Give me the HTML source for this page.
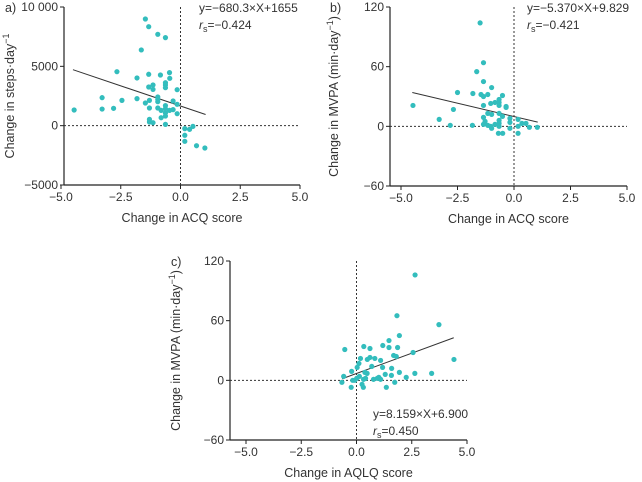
<!DOCTYPE html>
<html><head><meta charset="utf-8"><style>
body{margin:0;background:#fff;}
svg{display:block;font-family:"Liberation Sans",sans-serif;}
</style></head><body>
<svg id="chart" width="642" height="482" viewBox="0 0 642 482"></svg>
<script>
const aX=[-1.47,-1.33,-0.95,-0.63,-1.64,-2.66,-1.33,-0.84,-0.46,-0.45,-1.82,-1.15,-1.33,-1.15,-0.63,-0.63,-0.63,-0.14,-3.28,-2.45,-1.82,-1.30,-0.95,-0.95,-0.95,-0.31,-1.47,-0.14,-4.45,-3.28,-2.8,-1.30,-0.95,-0.81,-0.63,-0.63,-0.46,-0.31,-0.14,-0.63,-0.63,-0.81,-1.30,-1.30,-1.15,-0.63,0.18,0.38,0.52,0.18,0.18,0.67,1.02];
const aY=[8990,8340,7700,7420,6380,4550,4330,4270,4470,3990,4020,3430,3260,3060,3620,3430,3200,3030,2360,2130,2280,2130,2420,2220,2020,2080,1910,1800,1320,1400,1460,1490,1490,1290,1690,1430,1290,1350,1010,1070,810,670,530,310,250,110,-250,-310,-60,-810,-1320,-1690,-1880];
const bX=[-1.50,-1.35,-1.65,-1.35,-0.99,-2.50,-1.82,-1.46,-1.35,-1.16,-0.51,-4.47,-2.68,-1.35,-1.03,-0.84,-0.66,-0.66,-0.66,-0.35,-0.35,-1.16,-0.99,-0.66,-0.51,-1.35,-1.28,-1.35,-1.16,-1.03,-0.99,-0.84,-0.66,-0.66,-0.66,-0.69,-0.50,-3.31,-2.82,-1.84,-0.18,-0.18,-0.18,0.18,0.18,0.18,0.35,0.53,0.68,1.03];
const bY=[104,64,55,45,39,34,33,32,30,32,31,21,17,21,23,24,27,24,21,20,19,13,12,13,10,9,5,2,1,0,-2,2,6,3,0,-7,-7,7,1,1,8,4,-2,7,0,-7,3,3,-1,-1];
const cX=[2.65,1.83,3.73,1.94,1.47,-0.53,0.33,0.61,1.19,1.47,1.86,1.68,1.80,2.56,4.41,0.18,0.49,0.61,0.83,1.09,0.11,0.69,1.18,1.59,0.03,-0.22,-0.58,1.30,1.58,1.94,2.25,2.64,3.40,0.13,0.38,0.48,0.41,0.32,0.01,-0.17,-0.08,0.77,0.94,1.01,1.09,-0.66,-0.24,0.25,0.31,1.35,1.73];
const cY=[106,65,56,45,40,31,34,32,35,33,33,25,24,28,21,22,21,23,22,20,17,14,13,12,13,9,4,6,5,8,3,7,7,4,8,7,2,1,2,0,0,1,2,3,1,-2,-7,-4,-7,-7,-2];
const xTicks=[-5,-2.5,0,2.5,5];
const xTickLabels=["−5.0","−2.5","0.0","2.5","5.0"];
const aYTicks=[10000,5000,0,-5000];
const aYTickLabels=["10 000","5000","0","−5000"];
const mYTicks=[120,60,0,-60];
const mYTickLabels=["120","60","0","−60"];
const aFit=[-680.3,1655,-4.5,1.05];
const bFit=[-5.370,9.829,-4.5,1.05];
const cFit=[8.159,6.900,-0.65,4.4];

const svg=document.getElementById('chart');
const NS='http://www.w3.org/2000/svg';
function el(t,a,p){const e=document.createElementNS(NS,t);for(const k in a)e.setAttribute(k,a[k]);(p||svg).appendChild(e);return e;}

function panel(o){
  const g=el('g',{});
  
  
  const sx=v=>o.x0+(v+5)/10*(o.x1-o.x0);
  const sy=v=>o.yTop+(o.yMax-v)/(o.yMax-o.yMin)*(o.yBot-o.yTop);
  const ya=el('line',{x1:o.ax,y1:o.yTop,x2:o.ax,y2:o.yBot,stroke:'#222','stroke-width':1.2},g);
  
  
  const xa=el('line',{x1:o.ax,y1:o.yBot,x2:o.x1,y2:o.yBot,stroke:'#222','stroke-width':1.2},g);
  
  
  xTicks.forEach((t,i)=>{
    el('line',{x1:sx(t),y1:o.yBot,x2:sx(t),y2:o.yBot+4,stroke:'#222'},g);
    const tx=el('text',{x:sx(t),y:o.yBot+16,'text-anchor':'middle','font-size':12,fill:'#333'},g);
    tx.textContent=xTickLabels[i];
    
    
  });
  o.yt.forEach((t,i)=>{
    el('line',{x1:o.ax-4,y1:sy(t),x2:o.ax,y2:sy(t),stroke:'#222'},g);
    const tx=el('text',{x:o.ax-6,y:sy(t)+4,'text-anchor':'end','font-size':12,fill:'#333'},g);
    tx.textContent=o.ytl[i];
    
    
  });
  el('line',{x1:o.ax,y1:sy(0),x2:o.x1,y2:sy(0),stroke:'#333','stroke-dasharray':'2,2'},g);
  el('line',{x1:sx(0),y1:o.yTop,x2:sx(0),y2:o.yBot,stroke:'#333','stroke-dasharray':'2,2'},g);
  const f=o.fit;
  const rl=el('line',{x1:sx(f[2]),y1:sy(f[0]*f[2]+f[1]),x2:sx(f[3]),y2:sy(f[0]*f[3]+f[1]),stroke:'#333','stroke-width':1},g);
  
  
  o.xs.forEach((v,i)=>{
    const c=el('circle',{cx:sx(v),cy:sy(o.ys[i]),r:2.6,fill:'#33bdbd'},g);
    
    
  });
  const xt=el('text',{x:(o.ax+o.x1)/2,y:o.yBot+37,'text-anchor':'middle','font-size':12.5,fill:'#333'},g);
  xt.textContent=o.xTitle;
  
  
  const ytt=el('text',{x:0,y:0,'text-anchor':'middle','font-size':12.5,fill:'#333',transform:`translate(${o.ylx},${(o.yTop+o.yBot)/2}) rotate(-90)`},g);
  ytt.innerHTML=o.yTitle;
  
  
  const pl=el('text',{x:o.plx,y:o.ply,'font-size':12.5,fill:'#333'},g);
  pl.textContent=o.label;
  
  
  const eq=el('text',{x:o.eqx,y:o.eqy,'font-size':12,fill:'#333'},g);
  eq.textContent=o.eq;
  
  
  const rs=el('text',{x:o.eqx,y:o.eqy+17,'font-size':12,fill:'#333'},g);
  rs.innerHTML='<tspan font-style="italic">r</tspan><tspan font-size="9" dy="3">s</tspan><tspan dy="-3">='+o.rs+'</tspan>';
  
  
}
const yStepsTitle='Change in steps·day<tspan font-size="9" dy="-5">−1</tspan>';
const yMvpaTitle='Change in MVPA (min·day<tspan font-size="9" dy="-5">−1</tspan><tspan dy="5">)</tspan>';
panel({name:'panel-a',xs:aX,ys:aY,x0:61,x1:300,ax:64,yTop:7,yBot:185,yMax:10000,yMin:-5000,yt:aYTicks,ytl:aYTickLabels,fit:aFit,xTitle:'Change in ACQ score',yTitle:yStepsTitle,ylx:14,label:'a)',plx:5,ply:12,eq:'y=−680.3×X+1655',rs:'−0.424',eqx:199,eqy:12});
panel({name:'panel-b',xs:bX,ys:bY,x0:401,x1:627,ax:390,yTop:7,yBot:186,yMax:120,yMin:-60,yt:mYTicks,ytl:mYTickLabels,fit:bFit,xTitle:'Change in ACQ score',yTitle:yMvpaTitle,ylx:338,label:'b)',plx:330,ply:12,eq:'y=−5.370×X+9.829',rs:'−0.421',eqx:527,eqy:12});
panel({name:'panel-c',xs:cX,ys:cY,x0:246,x1:467,ax:230,yTop:261,yBot:440,yMax:120,yMin:-60,yt:mYTicks,ytl:mYTickLabels,fit:cFit,xTitle:'Change in AQLQ score',yTitle:yMvpaTitle,ylx:180,label:'c)',plx:171,ply:266,eq:'y=8.159×X+6.900',rs:'0.450',eqx:373,eqy:418});
</script>
</body></html>
